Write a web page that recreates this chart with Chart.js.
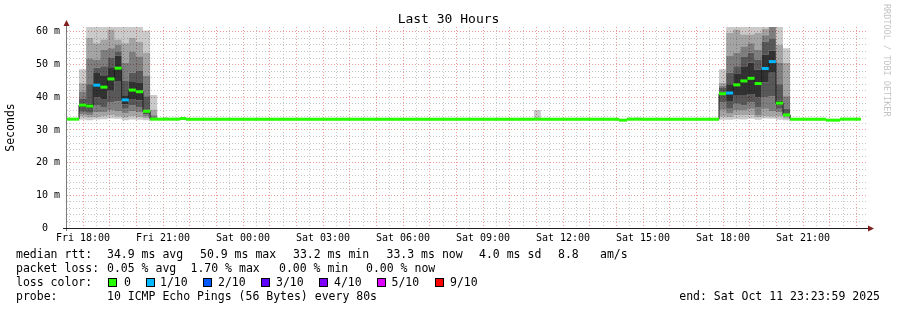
<!DOCTYPE html>
<html><head><meta charset="utf-8">
<script src="https://cdn.jsdelivr.net/npm/chart.js@4.4.1/dist/chart.umd.min.js"></script>
<style>
html,body{margin:0;padding:0;background:#fff;}
#wrap{position:relative;width:897px;height:310px;overflow:hidden;font-family:'DejaVu Sans Mono',monospace;color:#000;background:#fff;}
#c{position:absolute;left:0;top:0;}
.t{position:absolute;white-space:pre;font-size:11.5px;line-height:14px;}
.box{position:absolute;width:7px;height:7px;border:1px solid #000;}
#title{position:absolute;left:0;top:11px;width:897px;text-align:center;font-size:13px;line-height:16px;}
#wm{position:absolute;left:882px;top:4px;writing-mode:vertical-rl;font-size:8.5px;line-height:10px;color:#c4c4c4;white-space:pre;}
</style></head><body>
<div id="wrap">
<canvas id="c" width="897" height="310"></canvas>
<div id="title">Last 30 Hours</div>
<div id="wm">RRDTOOL / TOBI OETIKER</div>

<div class="t" style="left:16px;top:247px">median rtt:</div>
<div class="t" style="left:107px;top:247px">34.9 ms avg</div>
<div class="t" style="left:200px;top:247px">50.9 ms max</div>
<div class="t" style="left:293px;top:247px">33.2 ms min</div>
<div class="t" style="left:386.5px;top:247px">33.3 ms now</div>
<div class="t" style="left:479px;top:247px">4.0 ms sd</div>
<div class="t" style="left:558px;top:247px">8.8</div>
<div class="t" style="left:600px;top:247px">am/s</div>

<div class="t" style="left:16px;top:261px">packet loss:</div>
<div class="t" style="left:107px;top:261px">0.05 % avg</div>
<div class="t" style="left:190.5px;top:261px">1.70 % max</div>
<div class="t" style="left:279px;top:261px">0.00 % min</div>
<div class="t" style="left:366px;top:261px">0.00 % now</div>

<div class="t" style="left:16px;top:275px">loss color:</div>
<div class="box" style="left:108px;top:278px;background:#26ff00"></div><div class="t" style="left:124px;top:275px">0</div>
<div class="box" style="left:146px;top:278px;background:#00b8ff"></div><div class="t" style="left:160px;top:275px">1/10</div>
<div class="box" style="left:203px;top:278px;background:#0059ff"></div><div class="t" style="left:218px;top:275px">2/10</div>
<div class="box" style="left:261px;top:278px;background:#5e00ff"></div><div class="t" style="left:276px;top:275px">3/10</div>
<div class="box" style="left:319px;top:278px;background:#7e00ff"></div><div class="t" style="left:334px;top:275px">4/10</div>
<div class="box" style="left:377px;top:278px;background:#dd00ff"></div><div class="t" style="left:391.5px;top:275px">5/10</div>
<div class="box" style="left:435px;top:278px;background:#ff0000"></div><div class="t" style="left:450px;top:275px">9/10</div>

<div class="t" style="left:16px;top:289px">probe:</div>
<div class="t" style="left:107px;top:289px">10 ICMP Echo Pings (56 Bytes) every 80s</div>
<div class="t" style="right:17px;top:289px">end: Sat Oct 11 23:23:59 2025</div>
</div>
<script>
// ---- data (hours since Fri 17:23:59, RTT in ms) ----
const startClock = 17 + 23/60 + 59/3600;   // Fri 17:23:59
const rangeHours = 30;
const xTickLabels = ['Fri 18:00','Fri 21:00','Sat 00:00','Sat 03:00','Sat 06:00','Sat 09:00','Sat 12:00','Sat 15:00','Sat 18:00','Sat 21:00'];
const firstLabelClock = 18;
const yMax = 61.5;

const segEdges = [0, 0.45, 0.717, 0.983, 1.25, 1.517, 1.783, 2.05, 2.317, 2.583, 2.85, 3.117, 3.383, 3.6, 3.8, 4.24, 4.46, 17.51, 17.77, 20.7, 21.0, 21.26, 21.52, 24.45, 24.717, 24.983, 25.25, 25.517, 25.783, 26.05, 26.317, 26.583, 26.85, 27.117, 28.46, 28.99, 29.77];

const medianRtt = [33.3, 37.6, 37.3, 43.7, 43.1, 45.6, 48.9, 39.2, 42.2, 41.7, 35.7, 33.3, 33.3, 33.3, 33.3, 33.5, 33.3, 33.3, 33.3, 33.0, 33.3, 33.3, 33.3, 41.1, 41.3, 43.8, 45.0, 45.8, 44.2, 48.8, 50.9, 38.2, 34.6, 33.3, 33.0, 33.3];
const lossCount = [0, 0,0,1,0,0,0,1,0,0,0, 0, 0,0,0,0,0,0,0,0,0,0,0, 0,1,0,0,0,0,1,1,0,0, 0,0,0];

// sorted pings per bin (1 = fastest ... 10 = slowest)
const rtt1 = [33.0, 33.1,33.0,33.2,33.3,33.5,33.4,33.0,33.2,33.1,33.0, 33.0, 33.0,33.0,33.0,33.2,33.0,33.0,33.0,32.8,33.0,33.0,33.0, 33.1,33.1,33.3,33.2,33.4,33.1,33.5,33.4,33.1,33.0, 33.0,32.8,33.0];
const rtt2 = [33.1, 34.1,33.8,34.0,34.3,34.5,34.2,33.8,34.3,34.0,33.6, 33.1, 33.1,33.1,33.1,33.3,33.1,33.1,33.1,32.9,33.1,33.1,33.1, 34.1,34.0,34.5,34.5,34.6,34.0,34.3,34.1,34.1,33.5, 33.1,32.9,33.1];
const rtt3 = [33.2, 34.8,34.5,35.5,35.5,36.0,35.8,35.2,35.8,35.4,34.2, 33.2, 33.2,33.2,33.2,33.4,33.2,33.2,33.2,32.9,33.2,33.2,33.2, 36.2,35.0,36.0,36.0,36.5,34.5,36.5,35.8,35.5,34.1, 33.2,32.9,33.2];
const rtt4 = [33.2, 35.6,35.3,37.5,37.0,38.5,38.8,36.5,37.5,37.0,34.8, 33.2, 33.2,33.2,33.2,33.4,33.2,33.2,33.2,33.0,33.2,33.2,33.2, 38.5,36.5,38.0,37.5,38.5,37.0,40.0,40.3,36.5,34.4, 33.2,33.0,33.2];
const rtt5 = [33.3, 37.0,36.5,40.0,39.5,42.0,45.0,37.8,39.5,39.0,35.2, 33.3, 33.3,33.3,33.3,33.5,33.3,33.3,33.3,33.0,33.3,33.3,33.3, 40.5,38.6,40.5,40.5,41.0,40.0,44.5,47.5,37.5,34.5, 33.3,33.0,33.3];
const rtt6 = [33.3, 38.2,38.1,47.4,46.7,49.2,52.8,40.6,44.9,44.4,36.2, 33.3, 33.3,33.3,33.3,33.5,33.3,33.3,33.3,33.0,33.3,33.3,33.3, 41.7,44.0,47.1,49.5,50.6,48.4,53.1,54.3,38.9,34.7, 33.3,33.0,33.3];
const rtt7 = [33.4, 39.5,44.0,49.0,49.5,52.0,54.0,45.0,47.5,48.0,40.3, 33.5, 33.4,33.4,33.4,33.6,33.4,33.4,33.4,33.1,33.4,33.4,33.4, 42.8,47.5,49.5,52.5,53.6,51.5,57.0,58.0,44.0,36.5, 33.4,33.1,33.4];
const rtt8 = [33.4, 41.8,51.9,51.5,54.5,55.0,56.0,50.5,54.0,52.5,46.5, 34.5, 33.4,33.5,33.4,33.6,33.4,33.5,33.4,33.1,33.4,33.5,33.4, 43.5,52.6,53.6,55.5,56.5,54.5,59.0,61.5,50.5,40.3, 33.4,33.1,33.4];
const rtt9 = [33.5, 44.3,58.1,56.5,57.7,60.7,57.7,56.5,58.1,57.0,53.6, 36.2, 33.5,33.6,33.5,33.7,33.5,33.6,33.5,33.2,33.5,33.6,33.5, 44.4,59.7,60.7,59.2,59.2,59.7,61.0,63.0,56.1,50.5, 33.5,33.2,33.5];
const rtt10 = [33.6, 48.6,70,72,66,80,65,68,62,64,60.4, 40.7, 33.6,33.9,33.6,33.8,33.6,36.1,33.6,33.3,33.6,33.8,33.6, 48.6,75,70,68,72,70,66,65,64,55.0, 33.6,33.3,33.6];

// ---- styles ----
const FONT = "'DejaVu Sans Mono', monospace";
const lossColor = n => n >= 9 ? '#ff0000' : ['#26ff00','#00b8ff','#0059ff','#5e00ff','#7e00ff','#dd00ff','#dd00ff','#dd00ff','#dd00ff'][n];
const bandLevel = [202,164,126,88,50,88,126,164,202];
const RED = '#ec9a9a', GRAY = '#c6c6c6';

function stepPoints(vals){
  const pts = vals.map((v,i)=>({x:segEdges[i], y:v}));
  pts.push({x:segEdges[vals.length], y:vals[vals.length-1]});
  return pts;
}
const pingSets = [rtt1,rtt2,rtt3,rtt4,rtt5,rtt6,rtt7,rtt8,rtt9,rtt10];
const datasets = pingSets.map((vals,k)=>({
  data: stepPoints(vals), stepped:'before', borderWidth:0, pointRadius:0,
  fill: k===0 ? false : '-1',
  backgroundColor: k===0 ? 'transparent' : 'rgba(0,0,0,' + (1 - bandLevel[k-1]/255).toFixed(3) + ')',
  order: 10
}));
datasets.push({data: stepPoints(medianRtt), stepped:'before', borderColor:'#1e1e1e', borderWidth:1, pointRadius:0, fill:false, order:1});
const medPts = [];
medianRtt.forEach((m,i)=>{ medPts.push({x:segEdges[i],y:m},{x:segEdges[i+1],y:m},{x:segEdges[i+1],y:null}); });
datasets.push({data: medPts, borderWidth:3, pointRadius:0, fill:false, spanGaps:false, order:0,
  borderColor:'#26ff00', borderCapStyle:'butt',
  segment:{borderColor: c => lossColor(lossCount[Math.floor(c.p0DataIndex/3)])}});

const firstLabelOffset = firstLabelClock - startClock;
const xGrid = [];
for (let v = firstLabelOffset - 0.5; v < rangeHours; v += 0.5) xGrid.push(v);
const isInt = v => Math.abs(v - Math.round(v)) < 1e-6;

const axesPlugin = {
  id:'axes',
  afterDraw(chart){
    const {ctx, chartArea:a} = chart;
    ctx.save();
    ctx.lineWidth = 1;
    ctx.strokeStyle = '#7a7a7a';
    ctx.beginPath(); ctx.moveTo(a.left-0.5, a.bottom+3); ctx.lineTo(a.left-0.5, a.top-1); ctx.stroke();
    ctx.strokeStyle = '#1f1f1f';
    ctx.beginPath(); ctx.moveTo(a.left-4, a.bottom+0.5); ctx.lineTo(a.right+1, a.bottom+0.5); ctx.stroke();
    ctx.fillStyle = '#801f1f';
    ctx.beginPath(); ctx.moveTo(a.left-0.5, a.top-7); ctx.lineTo(a.left-3.5, a.top-1); ctx.lineTo(a.left+2.5, a.top-1); ctx.closePath(); ctx.fill();
    ctx.beginPath(); ctx.moveTo(a.right+7, a.bottom+0.5); ctx.lineTo(a.right+1, a.bottom-2.5); ctx.lineTo(a.right+1, a.bottom+3.5); ctx.closePath(); ctx.fill();
    ctx.restore();
  }
};

new Chart(document.getElementById('c'), {
  type:'line',
  data:{datasets},
  plugins:[axesPlugin],
  options:{
    responsive:false, animation:false, devicePixelRatio:1,
    layout:{padding:{left:0,right:30,top:27,bottom:60}},
    plugins:{legend:{display:false}, tooltip:{enabled:false}},
    elements:{line:{tension:0}},
    scales:{
      x:{
        type:'linear', min:0, max:rangeHours,
        afterFit(s){ s.height = 22; },
        afterBuildTicks(s){ s.ticks = xGrid.map(v=>({value:v})); },
        grid:{drawTicks:false, lineWidth:1, color: c => isInt((c.tick ? c.tick.value : 0) - firstLabelOffset) ? RED : GRAY},
        border:{display:false, dash:[1,2]},
        ticks:{autoSkip:false, maxRotation:0, padding:4, color:'#000', font:{family:FONT, size:10},
          callback:(v)=>{ const d = (v - firstLabelOffset)/3; return isInt(d) && d >= 0 ? (xTickLabels[Math.round(d)] || '') : ''; }}
      },
      y:{
        min:0, max:yMax,
        afterFit(s){ s.width = 67; },
        afterBuildTicks(s){ const t=[]; for(let v=0; v<=60; v+=2) t.push({value:v}); s.ticks = t; },
        grid:{drawTicks:false, lineWidth:1, color: c => { const v = c.tick ? c.tick.value : 0; return v === 0 ? 'rgba(0,0,0,0)' : (v % 10 === 0 ? RED : GRAY); }},
        border:{display:false, dash:[1,2]},
        ticks:{autoSkip:false, padding:7, color:'#000', font:{family:FONT, size:10},
          callback:(v)=> v === 0 ? '0  ' : (v % 10 === 0 ? v + ' m' : '')},
        title:{display:true, text:'Seconds', color:'#000', font:{family:FONT, size:11.5}, padding:{top:4,bottom:0}}
      }
    }
  }
});
</script>
</body></html>
